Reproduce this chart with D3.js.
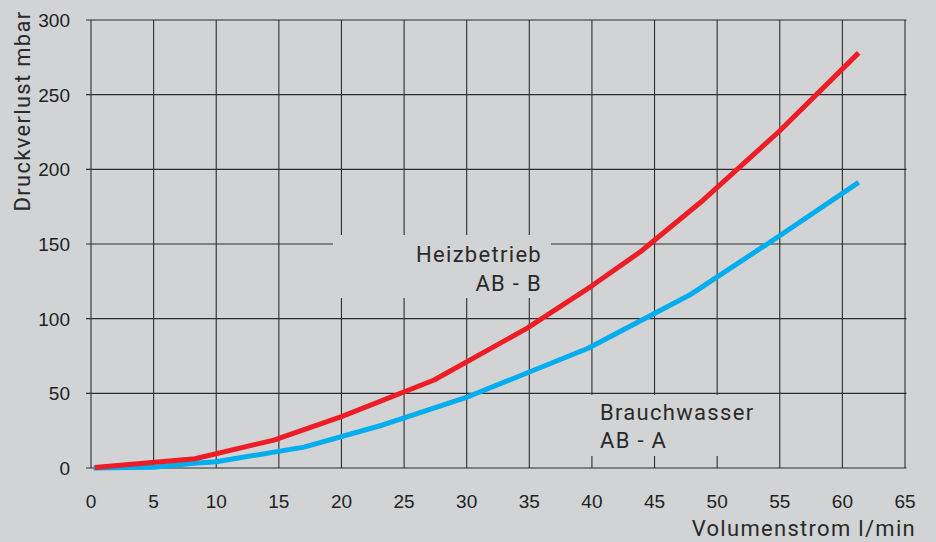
<!DOCTYPE html>
<html>
<head>
<meta charset="utf-8">
<script src="https://cdn.jsdelivr.net/npm/d3@7"></script>
<style>
  html, body { margin: 0; padding: 0; background: #d1d3d4; }
  svg { display: block; }
</style>
</head>
<body>
<svg id="chart" width="936" height="542"></svg>
<script>
// Flow rate (l/min) and pressure loss (mbar) for both valve paths
const heizFlow   = [0.3, 8.3, 14.6, 20, 27.4, 34.8, 40, 43.9, 48.9, 54.9, 61.3];
const heizLoss   = [0.3, 6.2, 18.7, 34.4, 58.9, 93.5, 122, 145, 179.5, 225, 278];
const brauchFlow = [0.2, 5, 8.2, 10, 17, 23.3, 30.1, 39.7, 47.8, 54.9, 61.3];
const brauchLoss = [0, 0.5, 3.2, 4.2, 14, 28.8, 47.7, 80.2, 115.8, 155, 191.3];

const xTickValues = [0, 5, 10, 15, 20, 25, 30, 35, 40, 45, 50, 55, 60, 65];
const yTickValues = [0, 50, 100, 150, 200, 250, 300];

const xTitle = "Volumenstrom l/min";
const yTitle = "Druckverlust mbar";
const heizLabel = ["Heizbetrieb", "AB - B"];
const brauchLabel = ["Brauchwasser", "AB - A"];

const BG = "#d1d3d4";
const GRID = "#2e2e2e";
const RED = "#ee1c25";
const BLUE = "#00aeef";

const svg = d3.select("#chart");
svg.append("rect").attr("width", 936).attr("height", 542).attr("fill", BG);

const x = d3.scaleLinear().domain([0, 65]).range([91, 905]);
const y = d3.scaleLinear().domain([0, 300]).range([468, 20]);

// grid: horizontal lines reach a little left of the axis as ticks
const grid = svg.append("g").attr("stroke", GRID).attr("stroke-width", 1.1);
grid.selectAll("line.h").data(yTickValues).join("line")
  .attr("class", "h")
  .attr("x1", x(0) - 5).attr("x2", x(65) + 1.5)
  .attr("y1", d => y(d)).attr("y2", d => y(d));
grid.selectAll("line.v").data(xTickValues).join("line")
  .attr("class", "v")
  .attr("x1", d => x(d)).attr("x2", d => x(d))
  .attr("y1", y(300)).attr("y2", y(0));

// clear patches behind the curve labels
svg.append("rect")
  .attr("x", 333).attr("y", 235).attr("width", 218).attr("height", 63)
  .attr("fill", BG);
svg.append("rect")
  .attr("x", 588).attr("y", y(50) + 1.5).attr("width", 180).attr("height", 456 - y(50) - 1.5)
  .attr("fill", BG);

// tick labels
const tickFont = "'Liberation Sans', Arial, sans-serif";
svg.append("g").selectAll("text").data(yTickValues).join("text")
  .attr("x", 70).attr("y", d => y(d)).attr("dy", "0.36em")
  .attr("text-anchor", "end")
  .attr("font-family", tickFont).attr("font-size", 19).attr("fill", "#222")
  .text(d => d);
svg.append("g").selectAll("text").data(xTickValues).join("text")
  .attr("x", d => x(d)).attr("y", 508)
  .attr("text-anchor", "middle")
  .attr("font-family", tickFont).attr("font-size", 19).attr("fill", "#222")
  .text(d => d);

// curves
const line = d3.line().x(d => x(d[0])).y(d => y(d[1]));
const curves = [
  { flow: brauchFlow, loss: brauchLoss, color: BLUE },
  { flow: heizFlow, loss: heizLoss, color: RED }
];
svg.append("g").selectAll("path").data(curves).join("path")
  .attr("d", c => line(d3.zip(c.flow, c.loss)))
  .attr("fill", "none")
  .attr("stroke", c => c.color)
  .attr("stroke-width", 5)
  .attr("stroke-linejoin", "round")
  .attr("stroke-linecap", "butt");

// titles and curve labels
const labelFont = "Roboto, 'Noto Sans', sans-serif";
function label(txt, px, py, anchor) {
  return svg.append("text")
    .attr("x", px).attr("y", py)
    .attr("text-anchor", anchor)
    .attr("font-family", labelFont).attr("font-size", 22)
    .attr("letter-spacing", 1.3)
    .attr("fill", "#2a2a2a")
    .text(txt);
}
label(heizLabel[0], 542, 262, "end");
label(heizLabel[1], 542, 291, "end");
label(brauchLabel[0], 600, 420, "start");
label(brauchLabel[1], 600, 448, "start");
label(xTitle, 916, 536, "end");
label(yTitle, 0, 0, "middle")
  .attr("transform", "translate(29.5,111) rotate(-90)");
</script>
</body>
</html>
